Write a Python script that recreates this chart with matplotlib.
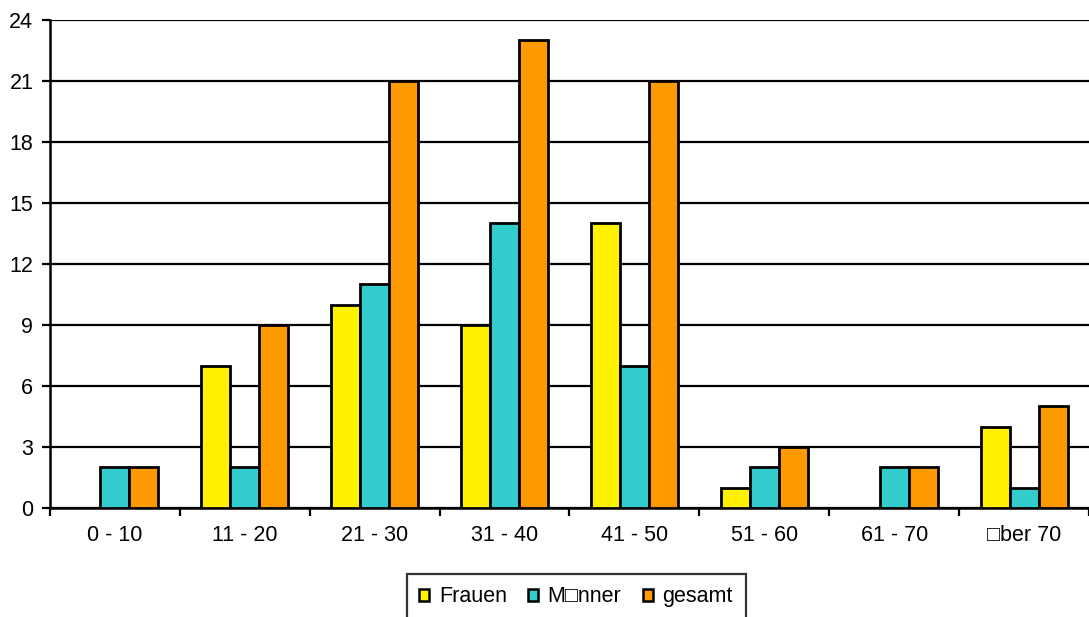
import matplotlib.pyplot as plt
import numpy as np
from matplotlib.patches import Patch

plt.rcParams["font.family"] = ["Liberation Sans", "DejaVu Sans"]

age_groups = ["0 - 10", "11 - 20", "21 - 30", "31 - 40",
              "41 - 50", "51 - 60", "61 - 70", "\u25a1ber 70"]
frauen = [0, 7, 10, 9, 14, 1, 0, 4]
maenner = [2, 2, 11, 14, 7, 2, 2, 1]
gesamt = [2, 9, 21, 23, 21, 3, 2, 5]
series_names = ["Frauen", "M\u25a1nner", "gesamt"]
colors = ["#FFF200", "#33CCCC", "#FF9900"]


def main():
    fig = plt.figure(figsize=(10.89, 6.17), dpi=100)
    ax = fig.add_axes([0.0459, 0.1767, 0.9541, 0.7909])

    x = np.arange(len(age_groups))
    width = 0.223
    for i, (vals, col) in enumerate(zip([frauen, maenner, gesamt], colors)):
        ax.bar(x + (i - 1) * width, vals, width, color=col,
               edgecolor="black", linewidth=2.0, zorder=3)

    ax.set_xlim(-0.5, len(age_groups) - 0.5)
    ax.set_ylim(0, 24)
    ax.set_yticks(range(0, 25, 3))
    ax.yaxis.grid(True, color="black", linewidth=1.6, zorder=0)
    ax.set_axisbelow(True)

    ax.set_xticks(x)
    ax.set_xticklabels(age_groups)
    ax.set_xticks(np.arange(-0.5, len(age_groups), 1), minor=True)
    ax.tick_params(axis="x", which="major", length=0, pad=12, labelsize=15.5)
    ax.tick_params(axis="x", which="minor", length=6, width=1.6,
                   direction="out", color="black")
    ax.tick_params(axis="y", length=6, width=1.6, labelsize=15.5, pad=6)

    for side in ["top", "right"]:
        ax.spines[side].set_visible(False)
    for side in ["left", "bottom"]:
        ax.spines[side].set_linewidth(1.8)

    handles = [Patch(facecolor=c, edgecolor="black", linewidth=1.8) for c in colors]
    fig.legend(handles, series_names, loc="upper center",
               bbox_to_anchor=(0.529, 0.0705), ncol=3, fontsize=15.5,
               frameon=True, fancybox=False, edgecolor="black",
               handlelength=0.45, handleheight=0.45, handletextpad=0.45,
               columnspacing=1.0, borderpad=0.6, borderaxespad=0.0)
    fig.legends[0].get_frame().set_linewidth(1.6)

    fig.savefig("out.png", dpi=100)
    plt.close(fig)


if __name__ == "__main__":
    main()
